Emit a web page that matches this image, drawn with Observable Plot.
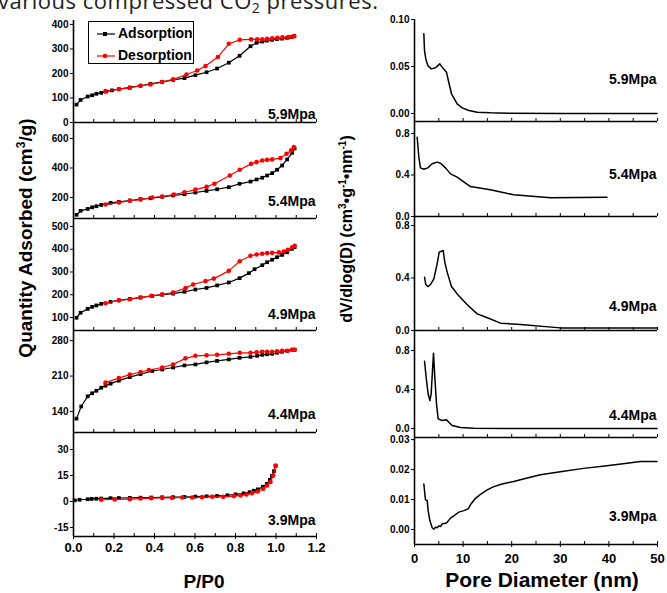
<!DOCTYPE html>
<html><head><meta charset="utf-8">
<script src="https://cdn.jsdelivr.net/npm/d3@7"></script>
<script src="https://cdn.jsdelivr.net/npm/@observablehq/plot@0.6"></script>
<style>
html,body{margin:0;padding:0;background:#fff;}
#root{position:relative;width:667px;height:593px;overflow:hidden;background:#fff;font-family:"Liberation Sans",Arial,sans-serif;}
#root svg{position:absolute;}
</style></head><body><div id="root"></div>
<script>
// ---------- DATA ----------
const pressures = ["5.9Mpa", "5.4Mpa", "4.9Mpa", "4.4Mpa", "3.9Mpa"];
const seriesNames = ["Adsorption", "Desorption"];

// isotherms [P/P0, quantity adsorbed]
const ads59 = [[0.015,73],[0.035,92],[0.07,106],[0.092,111],[0.113,117],[0.137,121],[0.16,126],[0.19,131],[0.224,136],[0.278,143],[0.331,150],[0.38,158],[0.438,166],[0.492,174],[0.548,181],[0.602,193],[0.657,205],[0.709,220],[0.767,244],[0.82,272],[0.874,311],[0.904,325],[0.932,330],[0.956,334],[0.981,337],[1.005,340],[1.03,342],[1.055,345],[1.075,348],[1.09,352]];
const des59 = [[0.158,128],[0.224,136],[0.278,141],[0.331,150],[0.38,155],[0.438,165],[0.492,176],[0.558,196],[0.611,212],[0.652,230],[0.713,267],[0.767,321],[0.821,337],[0.877,339],[0.907,339],[0.932,339],[0.956,341],[0.981,343],[1.007,345],[1.032,347],[1.06,348],[1.08,350],[1.09,352]];
const ads54 = [[0.015,83],[0.035,110],[0.07,123],[0.092,134],[0.113,141],[0.137,150],[0.183,164],[0.224,171],[0.278,180],[0.331,189],[0.38,195],[0.438,205],[0.492,214],[0.548,222],[0.602,234],[0.657,245],[0.709,256],[0.767,270],[0.82,293],[0.874,308],[0.904,322],[0.932,334],[0.956,349],[0.981,365],[1.005,388],[1.03,417],[1.055,458],[1.08,503],[1.092,532]];
const des54 = [[0.158,153],[0.224,166],[0.278,178],[0.331,186],[0.389,200],[0.438,207],[0.496,220],[0.548,236],[0.602,254],[0.657,272],[0.696,293],[0.772,349],[0.821,388],[0.877,428],[0.904,440],[0.932,451],[0.956,455],[0.981,458],[1.022,467],[1.052,496],[1.075,519],[1.088,541]];
const ads49 = [[0.015,99],[0.035,121],[0.07,138],[0.092,147],[0.113,153],[0.137,160],[0.183,169],[0.224,176],[0.278,182],[0.331,188],[0.389,195],[0.438,200],[0.492,205],[0.548,213],[0.602,223],[0.657,230],[0.709,241],[0.767,254],[0.82,273],[0.866,295],[0.894,312],[0.932,330],[0.956,343],[0.981,354],[1.005,365],[1.03,375],[1.055,387],[1.08,402],[1.092,409]];
const des49 = [[0.158,163],[0.224,175],[0.278,180],[0.331,188],[0.384,195],[0.438,202],[0.492,210],[0.553,229],[0.591,245],[0.652,260],[0.693,271],[0.767,305],[0.821,347],[0.874,371],[0.904,377],[0.932,380],[0.956,383],[0.981,384],[1.014,386],[1.039,390],[1.058,398],[1.08,409],[1.092,415]];
const ads44 = [[0.015,126],[0.038,150],[0.07,170],[0.092,176],[0.113,181],[0.137,187],[0.158,191],[0.183,195],[0.224,201],[0.278,208],[0.331,214],[0.389,220],[0.438,223],[0.492,227],[0.548,231],[0.602,233],[0.657,237],[0.709,240],[0.767,243],[0.82,246],[0.874,248],[0.907,250],[0.932,252],[0.956,253],[0.981,254],[1.005,256],[1.03,258],[1.055,260],[1.08,262],[1.092,262]];
const des44 = [[0.158,197],[0.224,206],[0.278,213],[0.331,218],[0.372,222],[0.438,227],[0.492,233],[0.553,245],[0.602,250],[0.657,251],[0.709,252],[0.767,254],[0.821,256],[0.874,256],[0.904,257],[0.932,258],[0.956,258],[0.981,258],[1.005,259],[1.03,260],[1.058,260],[1.08,262],[1.092,262]];
const ads39 = [[0.006,0.6],[0.03,1.0],[0.07,1.3],[0.09,1.5],[0.113,1.6],[0.137,1.7],[0.183,1.9],[0.224,2.0],[0.278,2.1],[0.331,2.2],[0.384,2.3],[0.438,2.4],[0.492,2.5],[0.548,2.6],[0.602,2.8],[0.657,3.0],[0.709,3.2],[0.76,3.6],[0.8,4.1],[0.84,4.7],[0.87,5.4],[0.89,6.2],[0.91,7.0],[0.935,8.5],[0.955,10.2],[0.97,12.5],[0.98,14.8],[0.99,17.5],[0.998,20.5]];
const des39 = [[0.137,1.0],[0.203,1.2],[0.278,1.35],[0.331,1.7],[0.384,1.9],[0.438,2.1],[0.487,2.1],[0.537,2.3],[0.586,2.3],[0.635,2.5],[0.685,2.7],[0.739,2.7],[0.792,3.1],[0.825,3.5],[0.854,4.0],[0.882,4.8],[0.91,5.8],[0.937,7.3],[0.956,9.2],[0.973,11.2],[0.986,15],[0.998,20.8]];

// pore size distributions [pore diameter nm, dV/dlog(D)]
const pore59 = [[1.92,0.0848],[2.06,0.067],[2.33,0.058],[2.74,0.051],[3.43,0.0475],[4.32,0.0486],[5.21,0.0528],[5.69,0.0493],[6.58,0.044],[7.06,0.033],[7.61,0.021],[8.78,0.0103],[9.81,0.006],[11.2,0.0032],[12.9,0.0014],[15.6,0.0007],[19.1,0.0003],[30,0.0001],[49.9,0]];
const pore54 = [[0.55,0.764],[0.89,0.572],[1.23,0.469],[1.92,0.456],[2.74,0.469],[3.63,0.508],[4.66,0.524],[5.35,0.514],[6.38,0.469],[7.41,0.411],[8.78,0.379],[11.5,0.289],[15.6,0.257],[20.4,0.209],[28,0.18],[39.6,0.186]];
const pore49 = [[2.06,0.406],[2.33,0.35],[2.74,0.335],[3.29,0.35],[3.98,0.394],[4.66,0.508],[5.08,0.597],[5.9,0.61],[6.24,0.521],[6.72,0.445],[7.61,0.335],[8.78,0.279],[10.8,0.198],[12.9,0.127],[15,0.097],[17.7,0.056],[21.8,0.046],[30,0.02],[49.9,0.02]];
const pore44 = [[2.06,0.69],[2.47,0.492],[2.81,0.356],[3.16,0.287],[3.43,0.356],[3.7,0.595],[3.91,0.772],[4.18,0.526],[4.53,0.253],[4.87,0.099],[5.69,0.082],[6.58,0.089],[7.06,0.065],[7.75,0.031],[9.47,0.01],[12.2,0.003],[19.1,0.001],[49.9,0]];
const pore39 = [[1.92,0.0152],[2.26,0.0099],[2.61,0.0097],[2.81,0.0063],[3.16,0.003],[3.64,0.0006],[3.98,0.0001],[4.32,0.0008],[4.66,0.0006],[5.01,0.0012],[5.35,0.001],[5.69,0.0019],[6.38,0.0021],[6.72,0.0024],[7.41,0.0038],[8.44,0.005],[9.12,0.0058],[10.15,0.0063],[11.04,0.0069],[11.66,0.0086],[12.55,0.0104],[13.58,0.0117],[14.95,0.0132],[16.33,0.0143],[18.04,0.0152],[20.4,0.016],[23.2,0.0172],[25.9,0.0183],[30,0.0193],[34.8,0.0204],[39.6,0.0213],[43.7,0.0221],[46.5,0.0227],[49.9,0.0227]];

// axis domains and ticks
const isoX = [0, 1.2], isoXTicks = [0, 0.2, 0.4, 0.6, 0.8, 1.0, 1.2], isoMinor = d3.range(0, 1.21, 0.1);
const poreX = [0, 50], poreXTicks = [0, 10, 20, 30, 40, 50], poreMinor = d3.range(0, 51, 5);
const isoY = [[0, 416], [58, 708], [43, 535], [98.6, 300], [-20.2, 39.8]];
const isoYTicks = [[0, 100, 200, 300, 400], [200, 400, 600], [100, 200, 300, 400, 500], [140, 210, 280], [-15, 0, 15, 30]];
const poreY = [[-0.0085, 0.1], [0, 0.916], [0, 0.869], [-0.092, 1.005], [-0.005, 0.0307]];
const poreYTicks = [[0, 0.05, 0.1], [0, 0.4, 0.8], [0, 0.4, 0.8], [0, 0.4, 0.8], [0, 0.01, 0.02, 0.03]];
const poreYFmt = [".2f", ".1f", ".1f", ".1f", ".2f"];
const isoData = [[ads59, des59], [ads54, des54], [ads49, des49], [ads44, des44], [ads39, des39]];
const poreData = [pore59, pore54, pore49, pore44, pore39];

// ---------- LAYOUT ----------
const NARROW = "'Liberation Sans Narrow','Arial Narrow','Liberation Sans',Arial,sans-serif";
const BOLD = "'Liberation Sans',Arial,sans-serif";
const leftCol = {axisX: 73, frames: [[20,122],[122,218],[218,330],[330,432],[432,536]], labelOff: [4,13,12,14,12], xPad: 3};
const rightCol = {axisX: 414, frames: [[19,121],[121,216],[216,330],[330,437],[437,544]], labelOff: [38,38,20,18,24], xPad: 6};
const plotW = 243, ML = 45, MR = 12;
const root = document.getElementById("root");

function panel(col, i, xDomain, xTicks, xMinor, xFmt, yDomain, yTicks, yFmt, dataMarks) {
  const [top, bottom] = col.frames[i];
  const fh = bottom - top;
  const last = i === 4;
  const MT = 10, MB = last ? 45 : 10;
  const marks = [
    Plot.ruleY([yDomain[0]], {stroke: "black", strokeWidth: 1.6}),
    Plot.ruleX([xDomain[0]], {stroke: "black", strokeWidth: 1.6}),
    Plot.tickX(xMinor, {x: d => d, insetTop: fh - 3, stroke: "black", strokeWidth: 1}),
    Plot.axisY(yTicks, {tickSize: 3, tickPadding: 2, tickFormat: yFmt, fontSize: 10, fontWeight: "bold", fontFamily: NARROW, label: null}),
    ...dataMarks,
    Plot.text([pressures[i]], {text: d => d, frameAnchor: "bottom-right", textAnchor: "end", lineAnchor: "bottom", dx: -1, dy: -col.labelOff[i], fontSize: 14, fontWeight: "bold", fontFamily: BOLD})
  ];
  if (last) marks.push(Plot.axisX(xTicks, {tickSize: 3, tickPadding: col.xPad, tickFormat: xFmt, fontSize: 13, fontWeight: "bold", fontFamily: NARROW, label: null}));
  const svg = Plot.plot({
    width: ML + plotW + MR, height: MT + fh + MB,
    marginLeft: ML, marginRight: MR, marginTop: MT, marginBottom: MB,
    x: {domain: xDomain, ...(last ? {} : {axis: null})},
    y: {domain: yDomain},
    style: {background: "transparent", overflow: "visible", color: "black"},
    marks
  });
  svg.style.left = (col.axisX - ML) + "px";
  svg.style.top = (top - MT) + "px";
  root.append(svg);
}

for (let i = 0; i < 5; i++) {
  const [ads, des] = isoData[i];
  panel(leftCol, i, isoX, isoXTicks, isoMinor, d => d.toFixed(1), isoY[i], isoYTicks[i], d => String(d), [
    Plot.line(ads, {x: d => d[0], y: d => d[1], stroke: "black", strokeWidth: 1.2}),
    Plot.dot(ads, {x: d => d[0], y: d => d[1], symbol: "square", r: 2.1, fill: "black"}),
    Plot.line(des, {x: d => d[0], y: d => d[1], stroke: "#ff0000", strokeWidth: 1.2}),
    Plot.dot(des, {x: d => d[0], y: d => d[1], symbol: "circle", r: 2.3, fill: "#ff0000"})
  ]);
  panel(rightCol, i, poreX, poreXTicks, poreMinor, d => String(d), poreY[i], poreYTicks[i], poreYFmt[i], [
    Plot.line(poreData[i], {x: d => d[0], y: d => d[1], stroke: "black", strokeWidth: 1.5})
  ]);
}

// ---------- TITLES & LEGEND ----------
const NS = "http://www.w3.org/2000/svg";
const ov = document.createElementNS(NS, "svg");
ov.setAttribute("width", 667); ov.setAttribute("height", 593);
ov.style.left = "0px"; ov.style.top = "0px"; ov.style.overflow = "visible";
ov.innerHTML = `
<text x="-2" y="9" textLength="380" lengthAdjust="spacing" font-family="'Open Sans','Noto Sans',sans-serif" font-size="22" fill="#222">various compressed CO<tspan font-size="14" dy="4">2</tspan><tspan dy="-4"> pressures.</tspan></text>
<text transform="translate(32,238) rotate(-90)" text-anchor="middle" font-family="${BOLD}" font-weight="bold" font-size="19">Quantity Adsorbed (cm<tspan font-size="12" dy="-7">3</tspan><tspan dy="7">/g)</tspan></text>
<text transform="translate(352,229) rotate(-90)" text-anchor="middle" font-family="${BOLD}" font-weight="bold" font-size="16">dV/dlog(D) (cm<tspan font-size="10" dy="-6">3</tspan><tspan dy="6">•g</tspan><tspan font-size="10" dy="-6">-1</tspan><tspan dy="6">•nm</tspan><tspan font-size="10" dy="-6">-1</tspan><tspan dy="6">)</tspan></text>
<text x="204" y="588" text-anchor="middle" font-family="${BOLD}" font-weight="bold" font-size="19">P/P0</text>
<text x="542" y="587" text-anchor="middle" font-family="${BOLD}" font-weight="bold" font-size="21">Pore Diameter (nm)</text>
<rect x="88.5" y="21.5" width="105" height="42" fill="white" stroke="black" stroke-width="1"/>
<line x1="97" x2="115" y1="34" y2="34" stroke="black" stroke-width="1.2"/>
<rect x="103" y="32" width="4" height="4" fill="black"/>
<text x="118" y="38" font-family="${BOLD}" font-weight="bold" font-size="14">${seriesNames[0]}</text>
<line x1="97" x2="115" y1="56" y2="56" stroke="#ff0000" stroke-width="1.2"/>
<circle cx="105" cy="56" r="2.3" fill="#ff0000"/>
<text x="118" y="60" font-family="${BOLD}" font-weight="bold" font-size="14">${seriesNames[1]}</text>
`;
root.append(ov);
</script></body></html>
